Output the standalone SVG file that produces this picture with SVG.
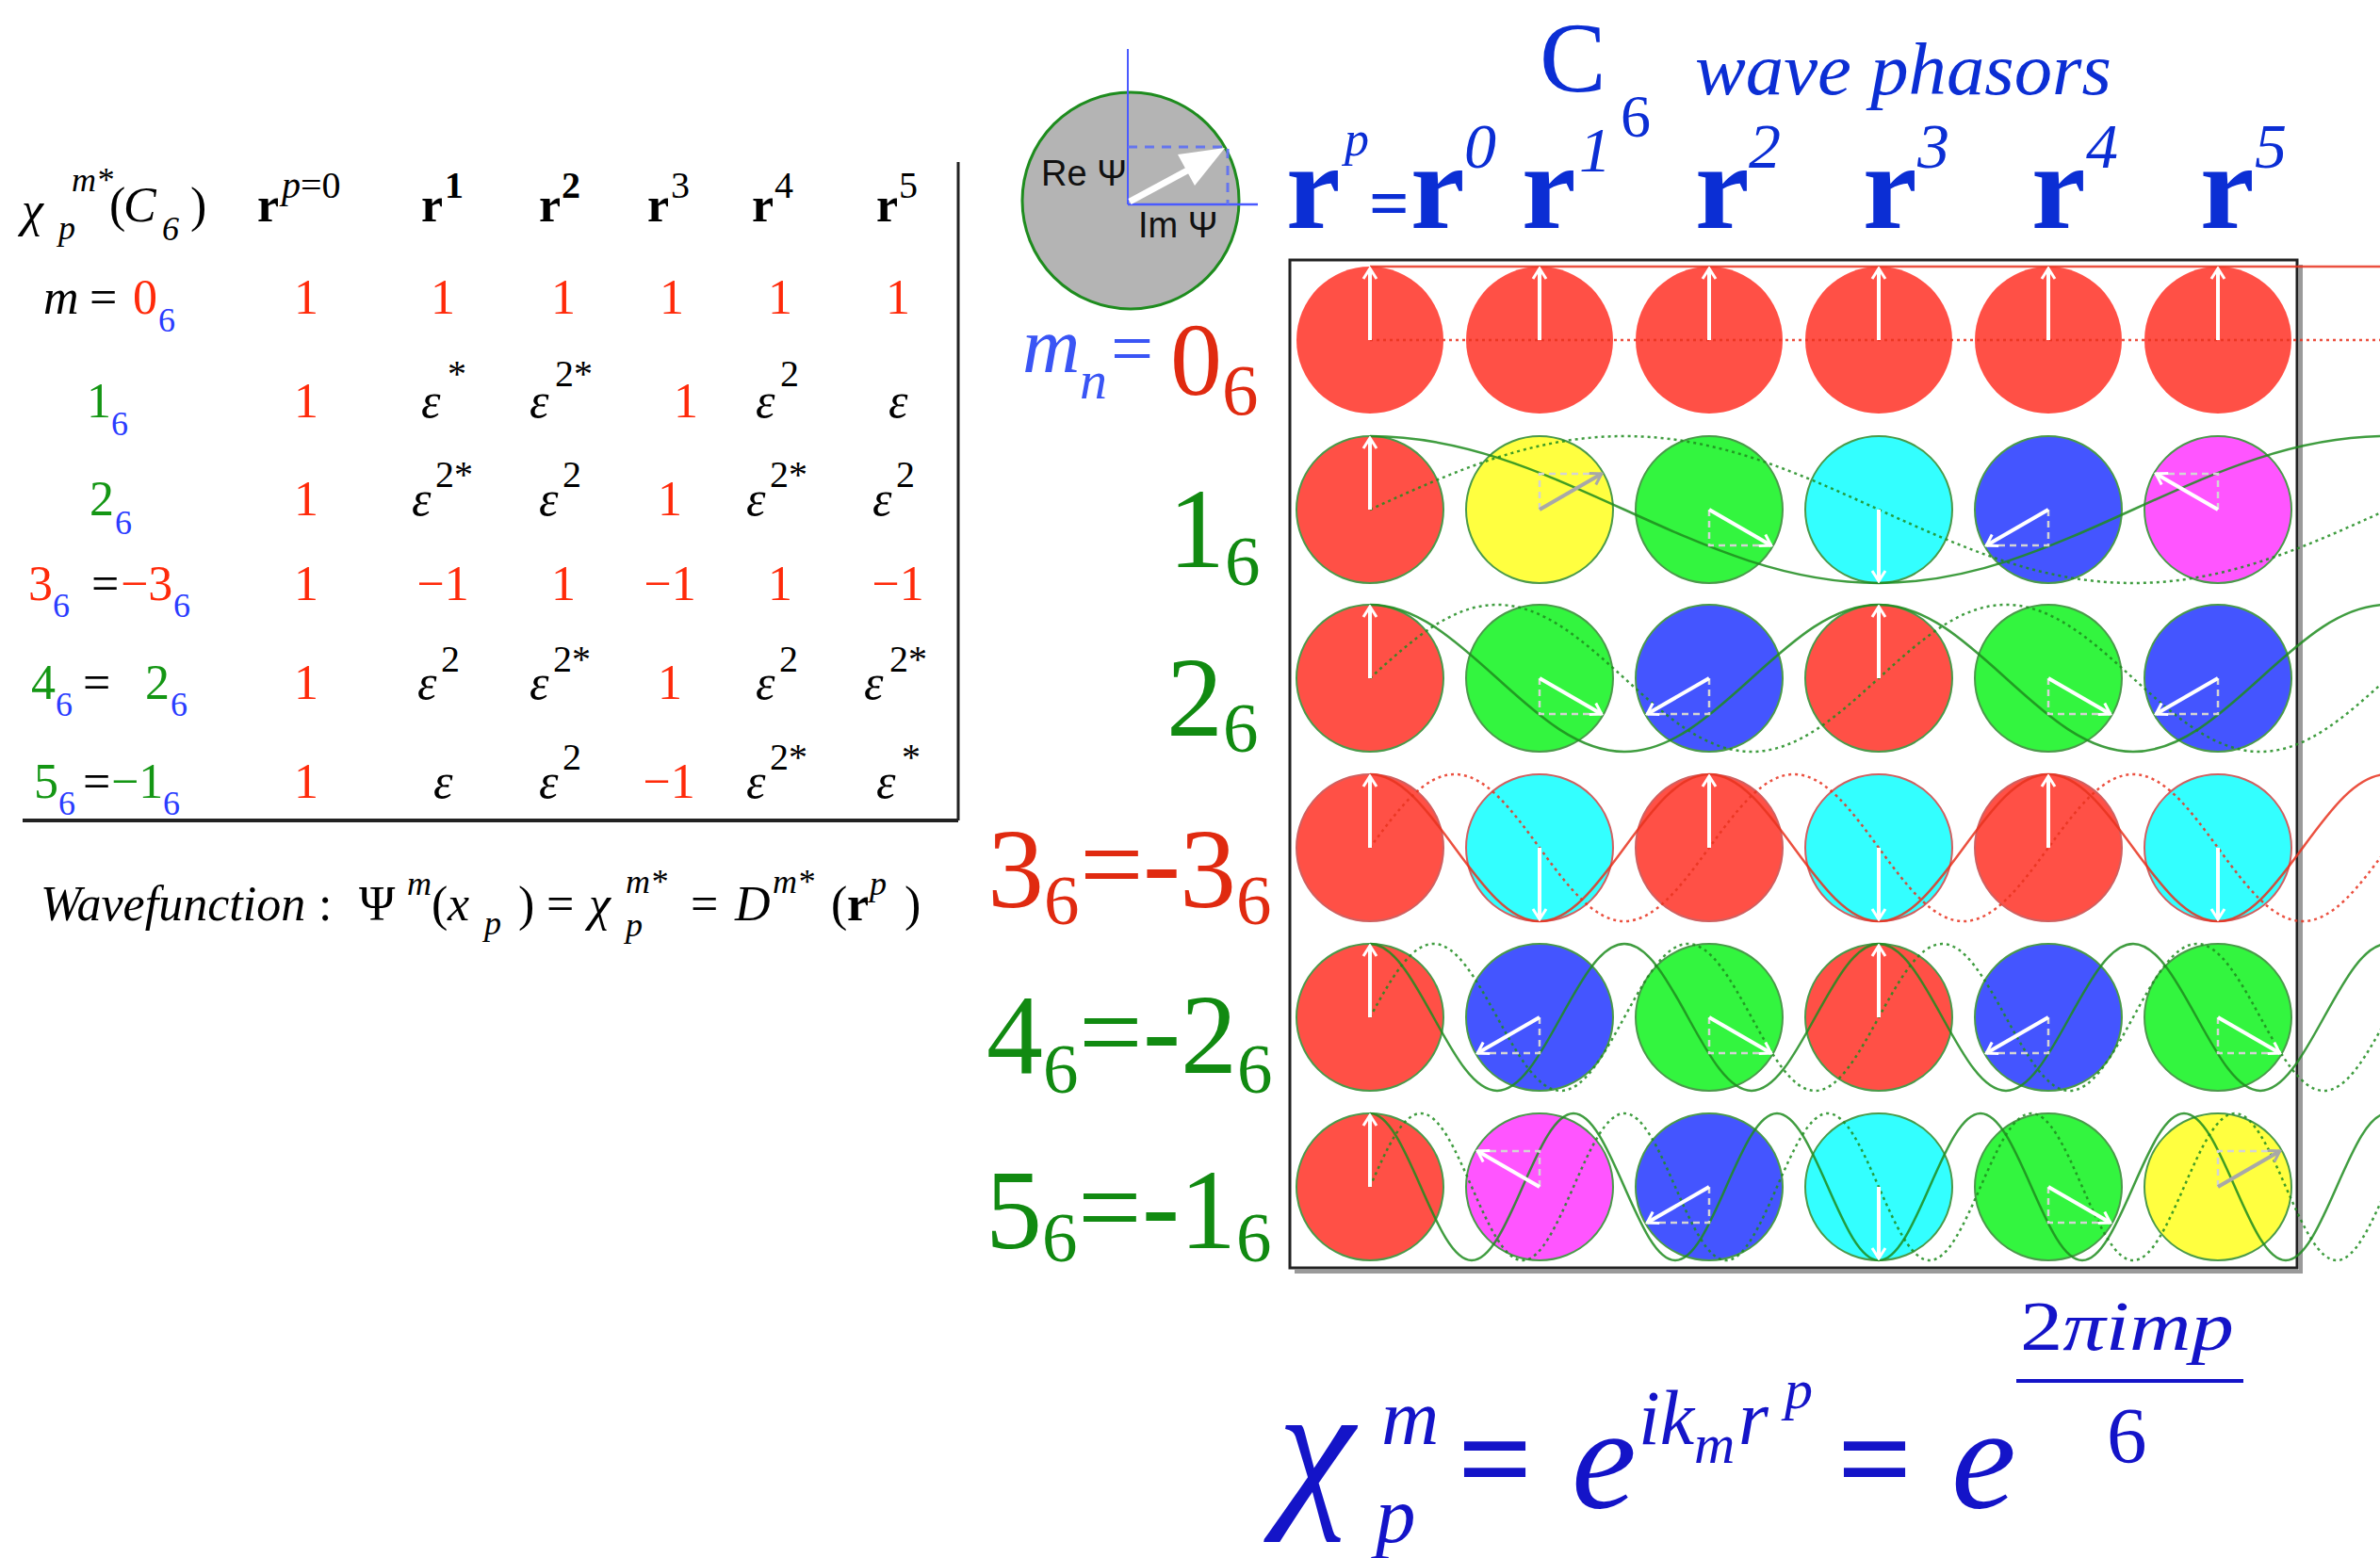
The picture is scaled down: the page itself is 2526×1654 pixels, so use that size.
<svg xmlns="http://www.w3.org/2000/svg" xmlns:xlink="http://www.w3.org/1999/xlink" width="2526" height="1654" viewBox="0 0 2526 1654">
<style>
.t{font-family:"Liberation Serif",serif;font-size:52px;fill:#000}
.i{font-style:italic}
.n{font-style:normal}
.b{font-weight:bold}
.s{font-size:36px}
.s4{font-size:40px}
.red{fill:#ff2a0a}
.grn{fill:#149614}
.blu{fill:#2a3cff}
.rl{font-family:"Liberation Serif",serif;font-size:120px}
.rs{font-size:75px}
.rr{fill:#e02a10}
.rg{fill:#118a11}
.hd{font-family:"Liberation Serif",serif;fill:#0b2ed4}
.fm{font-family:"Liberation Serif",serif;fill:#1414c8;font-style:italic}
.cw{fill:none;stroke-width:2.5;opacity:0.85}
.cg{stroke:#1e8c1e}
.cr{stroke:#e8321e}
.dt{stroke-dasharray:3,4}
.aw{stroke:#fff;stroke-width:4;marker-end:url(#hw)}
.ag{stroke:#a8a8a8;stroke-width:4;marker-end:url(#hg)}
.pj{fill:none;stroke:#d4d4d4;stroke-width:2.5;stroke-dasharray:7,5}
</style>
<defs>
<marker id="hw" viewBox="-14 -10 16 20" refX="0" refY="0" markerWidth="16" markerHeight="20" markerUnits="userSpaceOnUse" orient="auto"><path d="M-11,-7 L0,0 L-11,7" fill="none" stroke="#fff" stroke-width="3"/></marker>
<marker id="hg" viewBox="-14 -10 16 20" refX="0" refY="0" markerWidth="16" markerHeight="20" markerUnits="userSpaceOnUse" orient="auto"><path d="M-11,-7 L0,0 L-11,7" fill="none" stroke="#a8a8a8" stroke-width="3"/></marker>
<circle id="c0" r="78" fill="#ff5046"/>
<circle id="c1" r="78" fill="#ffff40"/>
<circle id="c2" r="78" fill="#33f53f"/>
<circle id="c3" r="78" fill="#33ffff"/>
<circle id="c4" r="78" fill="#4455ff"/>
<circle id="c5" r="78" fill="#ff55ff"/>
<g id="a0"><line x1="0" y1="0" x2="0" y2="-76" class="aw"/></g>
<g id="a1"><path d="M0,0 V-38 H65.8" class="pj"/><line x1="0" y1="0" x2="65.8" y2="-38" class="ag"/></g>
<g id="a2"><path d="M0,0 V38 H65.8" class="pj"/><line x1="0" y1="0" x2="65.8" y2="38" class="aw"/></g>
<g id="a3"><line x1="0" y1="0" x2="0" y2="76" class="aw"/></g>
<g id="a4"><path d="M0,0 V38 H-65.8" class="pj"/><line x1="0" y1="0" x2="-65.8" y2="38" class="aw"/></g>
<g id="a5"><path d="M0,0 V-38 H-65.8" class="pj"/><line x1="0" y1="0" x2="-65.8" y2="-38" class="aw"/></g>
</defs>
<rect width="2526" height="1654" fill="#fff"/>

<!-- Character table -->
<g id="char-table">
<line x1="1017" y1="172" x2="1017" y2="871" stroke="#222" stroke-width="3"/>
<line x1="24" y1="871" x2="1017" y2="871" stroke="#222" stroke-width="4"/>
<g id="table-header">
<text class="t"><tspan class="i" x="23" y="240">χ</tspan><tspan class="i s" x="76" y="203">m*</tspan><tspan class="i s" x="62" y="254">p</tspan><tspan x="116" y="235">(</tspan><tspan class="i" x="131" y="235">C</tspan><tspan class="i s" x="172" y="255">6</tspan><tspan x="202" y="235">)</tspan></text>
<text class="t"><tspan class="b" x="273" y="235">r</tspan><tspan class="s4" x="299" y="210"><tspan class="i">p</tspan>=0</tspan></text>
<text class="t b" x="447" y="235">r<tspan class="s4" x="472" y="210">1</tspan></text>
<text class="t b" x="572" y="235">r<tspan class="s4" x="596" y="210">2</tspan></text>
<text class="t b" x="687" y="235">r<tspan class="s4" font-weight="normal" x="712" y="210">3</tspan></text>
<text class="t b" x="798" y="235">r<tspan class="s4" font-weight="normal" x="822" y="210">4</tspan></text>
<text class="t b" x="930" y="235">r<tspan class="s4" font-weight="normal" x="954" y="210">5</tspan></text>
</g>
<g id="table-row-0">
<text class="t"><tspan class="i" x="46" y="333">m</tspan><tspan x="95" y="333">=</tspan><tspan class="red" x="141" y="333">0</tspan><tspan class="s blu" x="168" y="352">6</tspan></text>
<g class="t red" text-anchor="middle"><text x="325" y="333">1</text><text x="470" y="333">1</text><text x="598" y="333">1</text><text x="713" y="333">1</text><text x="828" y="333">1</text><text x="953" y="333">1</text></g>
</g>
<g id="table-row-1">
<text class="t"><tspan class="grn" x="92" y="443">1</tspan><tspan class="s blu" x="118" y="462">6</tspan></text>
<text class="t red" x="325" y="443" text-anchor="middle">1</text>
<text class="t i" x="447" y="443">ε<tspan class="s4 n" x="475" y="410">*</tspan></text>
<text class="t i" x="562" y="443">ε<tspan class="s4 n" x="589" y="410">2*</tspan></text>
<text class="t red" x="728" y="443" text-anchor="middle">1</text>
<text class="t i" x="802" y="443">ε<tspan class="s4 n" x="828" y="410">2</tspan></text>
<text class="t i" x="943" y="443">ε</text>
</g>
<g id="table-row-2">
<text class="t"><tspan class="grn" x="95" y="547">2</tspan><tspan class="s blu" x="122" y="567">6</tspan></text>
<text class="t red" x="325" y="547" text-anchor="middle">1</text>
<text class="t i" x="437" y="547">ε<tspan class="s4 n" x="462" y="517">2*</tspan></text>
<text class="t i" x="572" y="547">ε<tspan class="s4 n" x="597" y="517">2</tspan></text>
<text class="t red" x="711" y="547" text-anchor="middle">1</text>
<text class="t i" x="792" y="547">ε<tspan class="s4 n" x="817" y="517">2*</tspan></text>
<text class="t i" x="926" y="547">ε<tspan class="s4 n" x="951" y="517">2</tspan></text>
</g>
<g id="table-row-3">
<text class="t"><tspan class="red" x="30" y="637">3</tspan><tspan class="s blu" x="56" y="655">6</tspan><tspan x="97" y="637">=</tspan><tspan class="red" x="128" y="637">−3</tspan><tspan class="s blu" x="184" y="655">6</tspan></text>
<g class="t red" text-anchor="middle"><text x="325" y="637">1</text><text x="470" y="637">−1</text><text x="598" y="637">1</text><text x="711" y="637">−1</text><text x="828" y="637">1</text><text x="953" y="637">−1</text></g>
</g>
<g id="table-row-4">
<text class="t"><tspan class="grn" x="33" y="742">4</tspan><tspan class="s blu" x="59" y="760">6</tspan><tspan x="88" y="742">=</tspan><tspan class="grn" x="154" y="742">2</tspan><tspan class="s blu" x="181" y="760">6</tspan></text>
<text class="t red" x="325" y="742" text-anchor="middle">1</text>
<text class="t i" x="443" y="742">ε<tspan class="s4 n" x="468" y="713">2</tspan></text>
<text class="t i" x="562" y="742">ε<tspan class="s4 n" x="587" y="713">2*</tspan></text>
<text class="t red" x="711" y="742" text-anchor="middle">1</text>
<text class="t i" x="802" y="742">ε<tspan class="s4 n" x="827" y="713">2</tspan></text>
<text class="t i" x="917" y="742">ε<tspan class="s4 n" x="944" y="713">2*</tspan></text>
</g>
<g id="table-row-5">
<text class="t"><tspan class="grn" x="36" y="847">5</tspan><tspan class="s blu" x="62" y="865">6</tspan><tspan x="88" y="847">=</tspan><tspan class="grn" x="118" y="847">−1</tspan><tspan class="s blu" x="173" y="865">6</tspan></text>
<text class="t red" x="325" y="847" text-anchor="middle">1</text>
<text class="t i" x="460" y="847">ε</text>
<text class="t i" x="572" y="847">ε<tspan class="s4 n" x="597" y="817">2</tspan></text>
<text class="t red" x="710" y="847" text-anchor="middle">−1</text>
<text class="t i" x="792" y="847">ε<tspan class="s4 n" x="817" y="817">2*</tspan></text>
<text class="t i" x="930" y="847">ε<tspan class="s4 n" x="957" y="817">*</tspan></text>
</g>
</g>

<g id="wavefunction">
<text class="t"><tspan class="i" x="43" y="977">Wavefunction</tspan><tspan x="338" y="977">:</tspan><tspan x="381" y="977">Ψ</tspan><tspan class="i s" x="432" y="950">m</tspan><tspan x="458" y="977">(</tspan><tspan class="i" x="475" y="977">x</tspan><tspan class="i s" x="514" y="992">p</tspan><tspan x="550" y="977">)</tspan><tspan x="580" y="977">=</tspan><tspan class="i" x="625" y="977">χ</tspan><tspan class="i s" x="664" y="948">m*</tspan><tspan class="i s" x="664" y="994">p</tspan><tspan x="733" y="977">=</tspan><tspan class="i" x="780" y="977">D</tspan><tspan class="i s" x="820" y="948">m*</tspan><tspan x="882" y="977">(</tspan><tspan class="b" x="899" y="977">r</tspan><tspan class="i s" x="923" y="950">p</tspan><tspan x="960" y="977">)</tspan></text>
</g>

<!-- Phasor legend -->
<g id="phasor-legend">
<circle cx="1200" cy="213" r="115" fill="#b4b4b4" stroke="#1e8c1e" stroke-width="3"/>
<line x1="1197" y1="52" x2="1197" y2="217" stroke="#4a5aff" stroke-width="2"/>
<line x1="1197" y1="217" x2="1335" y2="217" stroke="#4a5aff" stroke-width="2.5"/>
<path d="M1197,156 H1303 V217" fill="none" stroke="#6575ee" stroke-width="3" stroke-dasharray="10,8"/>
<line x1="1199" y1="214" x2="1262" y2="180" stroke="#fff" stroke-width="7"/>
<polygon points="1300,157 1250,164 1268,197" fill="#fff"/>
<text x="1105" y="197" font-family="'Liberation Sans',sans-serif" font-size="38" fill="#111">Re Ψ</text>
<text x="1208" y="252" font-family="'Liberation Sans',sans-serif" font-size="38" fill="#111">Im Ψ</text>
</g>

<!-- Title and column headers -->
<g id="title">
<text class="hd" x="1634" y="97" font-size="106">C<tspan x="1720" y="145" font-size="64">6</tspan></text>
<text class="hd i" x="1799" y="100" font-size="78" textLength="442" lengthAdjust="spacingAndGlyphs">wave phasors</text>
</g>
<g id="column-headers">
<text class="hd b" font-size="130"><tspan x="1365" y="242">r</tspan><tspan class="i" font-weight="normal" font-size="52" x="1427" y="165">p</tspan><tspan font-size="75" x="1453" y="241">=</tspan><tspan x="1497" y="242">r</tspan><tspan class="i" font-weight="normal" font-size="68" x="1554" y="178">0</tspan></text>
<text class="hd b" font-size="130" x="1615" y="242">r<tspan class="i" font-weight="normal" font-size="68" x="1676" y="182">1</tspan></text>
<text class="hd b" font-size="130" x="1799" y="242">r<tspan class="i" font-weight="normal" font-size="68" x="1856" y="178">2</tspan></text>
<text class="hd b" font-size="130" x="1977" y="242">r<tspan class="i" font-weight="normal" font-size="68" x="2035" y="178">3</tspan></text>
<text class="hd b" font-size="130" x="2156" y="242">r<tspan class="i" font-weight="normal" font-size="68" x="2214" y="178">4</tspan></text>
<text class="hd b" font-size="130" x="2335" y="242">r<tspan class="i" font-weight="normal" font-size="68" x="2393" y="178">5</tspan></text>
</g>

<!-- Row labels -->
<g id="row-labels">
<g id="label-0">
<text font-family="'Liberation Serif',serif"><tspan x="1085" y="395" font-size="85" font-style="italic" fill="#3a55f5">m</tspan><tspan x="1146" y="423" font-size="58" font-style="italic" fill="#3a55f5">n</tspan><tspan x="1179" y="397" font-size="80" fill="#3a55f5">=</tspan><tspan x="1242" y="419" font-size="110" fill="#e02a10">0</tspan><tspan x="1297" y="440" font-size="77" fill="#e02a10">6</tspan></text>
</g>
<g id="label-1">
<text class="rl rg"><tspan x="1240" y="602">1</tspan><tspan class="rs" x="1300" y="621">6</tspan></text>
</g>
<g id="label-2">
<text class="rl rg"><tspan x="1238" y="781">2</tspan><tspan class="rs" x="1298" y="798">6</tspan></text>
</g>
<g id="label-3">
<text class="rl rr"><tspan x="1048" y="963">3</tspan><tspan class="rs" x="1108" y="981">6</tspan><tspan x="1146" y="958">=</tspan><tspan x="1213" y="956">-</tspan><tspan x="1252" y="963">3</tspan><tspan class="rs" x="1312" y="981">6</tspan></text>
</g>
<g id="label-4">
<text class="rl rg"><tspan x="1047" y="1139">4</tspan><tspan class="rs" x="1107" y="1160">6</tspan><tspan x="1145" y="1136">=</tspan><tspan x="1213" y="1134">-</tspan><tspan x="1253" y="1139">2</tspan><tspan class="rs" x="1313" y="1160">6</tspan></text>
</g>
<g id="label-5">
<text class="rl rg"><tspan x="1046" y="1325">5</tspan><tspan class="rs" x="1106" y="1339">6</tspan><tspan x="1144" y="1322">=</tspan><tspan x="1212" y="1320">-</tspan><tspan x="1252" y="1325">1</tspan><tspan class="rs" x="1312" y="1339">6</tspan></text>
</g>
</g>

<!-- Grid frame -->
<g id="grid-frame">
<path d="M2442,281 V1350 H1374" fill="none" stroke="#9a9a9a" stroke-width="4"/>
<rect x="1369" y="276" width="1069" height="1070" fill="none" stroke="#222" stroke-width="3"/>
</g>

<!-- Phasor discs -->
<g id="discs">
<g id="row-m0"><use href="#c0" x="1454" y="361"/><use href="#c0" x="1634" y="361"/><use href="#c0" x="1814" y="361"/><use href="#c0" x="1994" y="361"/><use href="#c0" x="2174" y="361"/><use href="#c0" x="2354" y="361"/></g>
<g id="row-m1" stroke="#4a9a4a" stroke-width="2"><use href="#c0" x="1454" y="541"/><use href="#c1" x="1634" y="541"/><use href="#c2" x="1814" y="541"/><use href="#c3" x="1994" y="541"/><use href="#c4" x="2174" y="541"/><use href="#c5" x="2354" y="541"/></g>
<g id="row-m2" stroke="#4a9a4a" stroke-width="2"><use href="#c0" x="1454" y="720"/><use href="#c2" x="1634" y="720"/><use href="#c4" x="1814" y="720"/><use href="#c0" x="1994" y="720"/><use href="#c2" x="2174" y="720"/><use href="#c4" x="2354" y="720"/></g>
<g id="row-m3" stroke="#d06060" stroke-width="2"><use href="#c0" x="1454" y="900"/><use href="#c3" x="1634" y="900"/><use href="#c0" x="1814" y="900"/><use href="#c3" x="1994" y="900"/><use href="#c0" x="2174" y="900"/><use href="#c3" x="2354" y="900"/></g>
<g id="row-m4" stroke="#4a9a4a" stroke-width="2"><use href="#c0" x="1454" y="1080"/><use href="#c4" x="1634" y="1080"/><use href="#c2" x="1814" y="1080"/><use href="#c0" x="1994" y="1080"/><use href="#c4" x="2174" y="1080"/><use href="#c2" x="2354" y="1080"/></g>
<g id="row-m5" stroke="#4a9a4a" stroke-width="2"><use href="#c0" x="1454" y="1260"/><use href="#c5" x="1634" y="1260"/><use href="#c4" x="1814" y="1260"/><use href="#c3" x="1994" y="1260"/><use href="#c2" x="2174" y="1260"/><use href="#c1" x="2354" y="1260"/></g>
</g>

<!-- Wave curves -->
<g id="waves">
<path class="cw cr" d="M1454,283 H2526"/>
<path class="cw cr dt" d="M1454,361 H2526"/>
<path class="cw cg" d="M1454,463 c97.2,0 180,37.04 270,78 c90,40.96 172.8,78 270,78 c97.2,0 180,-37.04 270,-78 c90,-40.96 172.8,-78 270,-78"/>
<path class="cw cg dt" d="M1454,541 c90,-40.96 172.8,-78 270,-78 c97.2,0 180,37.04 270,78 c90,40.96 172.8,78 270,78 c97.2,0 180,-37.04 270,-78"/>
<path class="cw cg" d="M1454,642 c48.6,0 90,37.04 135,78 c45,40.96 86.4,78 135,78 c48.6,0 90,-37.04 135,-78 c45,-40.96 86.4,-78 135,-78 c48.6,0 90,37.04 135,78 c45,40.96 86.4,78 135,78 c48.6,0 90,-37.04 135,-78 c45,-40.96 86.4,-78 135,-78"/>
<path class="cw cg dt" d="M1454,720 c45,-40.96 86.4,-78 135,-78 c48.6,0 90,37.04 135,78 c45,40.96 86.4,78 135,78 c48.6,0 90,-37.04 135,-78 c45,-40.96 86.4,-78 135,-78 c48.6,0 90,37.04 135,78 c45,40.96 86.4,78 135,78 c48.6,0 90,-37.04 135,-78"/>
<path class="cw cr" d="M1454,822 c32.4,0 60,37.04 90,78 c30,40.96 57.6,78 90,78 c32.4,0 60,-37.04 90,-78 c30,-40.96 57.6,-78 90,-78 c32.4,0 60,37.04 90,78 c30,40.96 57.6,78 90,78 c32.4,0 60,-37.04 90,-78 c30,-40.96 57.6,-78 90,-78 c32.4,0 60,37.04 90,78 c30,40.96 57.6,78 90,78 c32.4,0 60,-37.04 90,-78 c30,-40.96 57.6,-78 90,-78"/>
<path class="cw cr dt" d="M1454,900 c30,-40.96 57.6,-78 90,-78 c32.4,0 60,37.04 90,78 c30,40.96 57.6,78 90,78 c32.4,0 60,-37.04 90,-78 c30,-40.96 57.6,-78 90,-78 c32.4,0 60,37.04 90,78 c30,40.96 57.6,78 90,78 c32.4,0 60,-37.04 90,-78 c30,-40.96 57.6,-78 90,-78 c32.4,0 60,37.04 90,78 c30,40.96 57.6,78 90,78 c32.4,0 60,-37.04 90,-78"/>
<path class="cw cg" d="M1454,1002 c24.3,0 45,37.04 67.5,78 c22.5,40.96 43.2,78 67.5,78 c24.3,0 45,-37.04 67.5,-78 c22.5,-40.96 43.2,-78 67.5,-78 c24.3,0 45,37.04 67.5,78 c22.5,40.96 43.2,78 67.5,78 c24.3,0 45,-37.04 67.5,-78 c22.5,-40.96 43.2,-78 67.5,-78 c24.3,0 45,37.04 67.5,78 c22.5,40.96 43.2,78 67.5,78 c24.3,0 45,-37.04 67.5,-78 c22.5,-40.96 43.2,-78 67.5,-78 c24.3,0 45,37.04 67.5,78 c22.5,40.96 43.2,78 67.5,78 c24.3,0 45,-37.04 67.5,-78 c22.5,-40.96 43.2,-78 67.5,-78"/>
<path class="cw cg dt" d="M1454,1080 c22.5,-40.96 43.2,-78 67.5,-78 c24.3,0 45,37.04 67.5,78 c22.5,40.96 43.2,78 67.5,78 c24.3,0 45,-37.04 67.5,-78 c22.5,-40.96 43.2,-78 67.5,-78 c24.3,0 45,37.04 67.5,78 c22.5,40.96 43.2,78 67.5,78 c24.3,0 45,-37.04 67.5,-78 c22.5,-40.96 43.2,-78 67.5,-78 c24.3,0 45,37.04 67.5,78 c22.5,40.96 43.2,78 67.5,78 c24.3,0 45,-37.04 67.5,-78 c22.5,-40.96 43.2,-78 67.5,-78 c24.3,0 45,37.04 67.5,78 c22.5,40.96 43.2,78 67.5,78 c24.3,0 45,-37.04 67.5,-78"/>
<path class="cw cg" d="M1454,1182 c19.44,0 36,37.04 54,78 c18,40.96 34.56,78 54,78 c19.44,0 36,-37.04 54,-78 c18,-40.96 34.56,-78 54,-78 c19.44,0 36,37.04 54,78 c18,40.96 34.56,78 54,78 c19.44,0 36,-37.04 54,-78 c18,-40.96 34.56,-78 54,-78 c19.44,0 36,37.04 54,78 c18,40.96 34.56,78 54,78 c19.44,0 36,-37.04 54,-78 c18,-40.96 34.56,-78 54,-78 c19.44,0 36,37.04 54,78 c18,40.96 34.56,78 54,78 c19.44,0 36,-37.04 54,-78 c18,-40.96 34.56,-78 54,-78 c19.44,0 36,37.04 54,78 c18,40.96 34.56,78 54,78 c19.44,0 36,-37.04 54,-78 c18,-40.96 34.56,-78 54,-78"/>
<path class="cw cg dt" d="M1454,1260 c18,-40.96 34.56,-78 54,-78 c19.44,0 36,37.04 54,78 c18,40.96 34.56,78 54,78 c19.44,0 36,-37.04 54,-78 c18,-40.96 34.56,-78 54,-78 c19.44,0 36,37.04 54,78 c18,40.96 34.56,78 54,78 c19.44,0 36,-37.04 54,-78 c18,-40.96 34.56,-78 54,-78 c19.44,0 36,37.04 54,78 c18,40.96 34.56,78 54,78 c19.44,0 36,-37.04 54,-78 c18,-40.96 34.56,-78 54,-78 c19.44,0 36,37.04 54,78 c18,40.96 34.56,78 54,78 c19.44,0 36,-37.04 54,-78 c18,-40.96 34.56,-78 54,-78 c19.44,0 36,37.04 54,78 c18,40.96 34.56,78 54,78 c19.44,0 36,-37.04 54,-78"/>
</g>

<!-- Phasor arrows -->
<g id="arrows">
<use href="#a0" x="1454" y="361"/><use href="#a0" x="1634" y="361"/><use href="#a0" x="1814" y="361"/><use href="#a0" x="1994" y="361"/><use href="#a0" x="2174" y="361"/><use href="#a0" x="2354" y="361"/>
<use href="#a0" x="1454" y="541"/><use href="#a1" x="1634" y="541"/><use href="#a2" x="1814" y="541"/><use href="#a3" x="1994" y="541"/><use href="#a4" x="2174" y="541"/><use href="#a5" x="2354" y="541"/>
<use href="#a0" x="1454" y="720"/><use href="#a2" x="1634" y="720"/><use href="#a4" x="1814" y="720"/><use href="#a0" x="1994" y="720"/><use href="#a2" x="2174" y="720"/><use href="#a4" x="2354" y="720"/>
<use href="#a0" x="1454" y="900"/><use href="#a3" x="1634" y="900"/><use href="#a0" x="1814" y="900"/><use href="#a3" x="1994" y="900"/><use href="#a0" x="2174" y="900"/><use href="#a3" x="2354" y="900"/>
<use href="#a0" x="1454" y="1080"/><use href="#a4" x="1634" y="1080"/><use href="#a2" x="1814" y="1080"/><use href="#a0" x="1994" y="1080"/><use href="#a4" x="2174" y="1080"/><use href="#a2" x="2354" y="1080"/>
<use href="#a0" x="1454" y="1260"/><use href="#a5" x="1634" y="1260"/><use href="#a4" x="1814" y="1260"/><use href="#a3" x="1994" y="1260"/><use href="#a2" x="2174" y="1260"/><use href="#a1" x="2354" y="1260"/>
</g>

<!-- Formula -->
<g id="formula">
<text class="fm"><tspan x="1356" y="1598" font-size="185">χ</tspan><tspan x="1466" y="1533" font-size="85">m</tspan><tspan x="1460" y="1637" font-size="85">p</tspan><tspan x="1547" y="1596" font-size="140" font-style="normal" font-weight="bold">=</tspan><tspan x="1668" y="1600" font-size="155">e</tspan><tspan x="1739" y="1533" font-size="82">ik</tspan><tspan x="1798" y="1553" font-size="60">m</tspan><tspan x="1845" y="1533" font-size="82">r</tspan><tspan x="1894" y="1495" font-size="60">p</tspan><tspan x="1950" y="1596" font-size="140" font-style="normal" font-weight="bold">=</tspan><tspan x="2071" y="1600" font-size="155">e</tspan><tspan x="2236" y="1553" font-size="85" font-style="normal">6</tspan></text>
<text class="fm" x="2144" y="1433" font-size="75" textLength="227" lengthAdjust="spacingAndGlyphs"><tspan font-style="normal">2</tspan>πimp</text>
<rect x="2140" y="1464" width="241" height="4" fill="#1414c8"/>
</g>
</svg>
